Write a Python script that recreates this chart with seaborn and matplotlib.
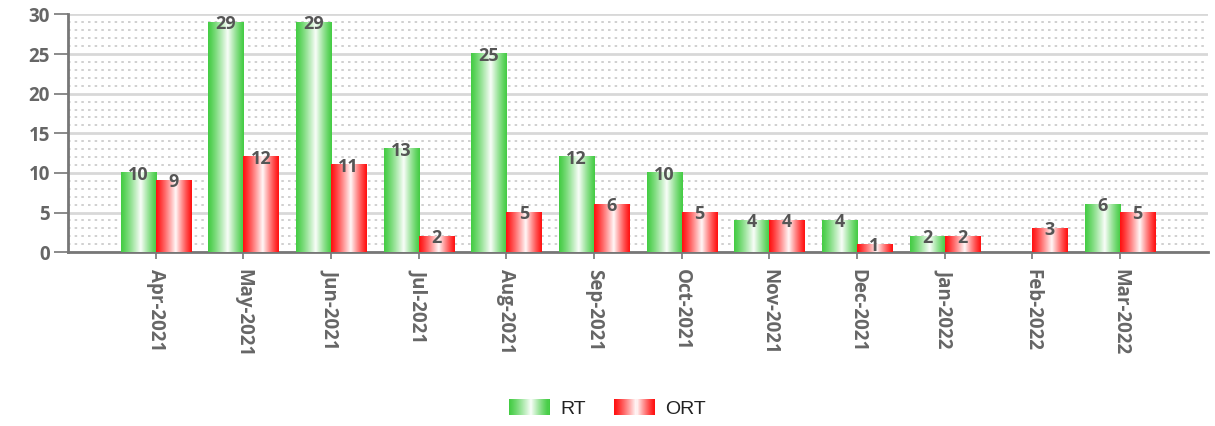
import numpy as np
import pandas as pd
import matplotlib
matplotlib.use("Agg")
import matplotlib.pyplot as plt
from matplotlib.patches import Rectangle
from matplotlib.legend_handler import HandlerBase
from matplotlib.colors import to_rgb
import seaborn as sns

# ── Data ──────────────────────────────────────────────────────────────────────
MONTHS = ["Apr-2021", "May-2021", "Jun-2021", "Jul-2021", "Aug-2021", "Sep-2021",
          "Oct-2021", "Nov-2021", "Dec-2021", "Jan-2022", "Feb-2022", "Mar-2022"]
RT  = [10, 29, 29, 13, 25, 12, 10, 4, 4, 2, np.nan, 6]
ORT = [9, 12, 11, 2, 5, 6, 5, 4, 1, 2, 3, 5]
SERIES = ["RT", "ORT"]
COLORS = {"RT": "#44cc44", "ORT": "#ff1111"}

df = pd.DataFrame({
    "month": MONTHS * 2,
    "value": RT + ORT,
    "series": ["RT"] * len(MONTHS) + ["ORT"] * len(MONTHS),
})

# ── Style ─────────────────────────────────────────────────────────────────────
sns.set_theme(style="white")
plt.rcParams["font.family"] = ["Open Sans", "DejaVu Sans"]
TXT = "#666666"


def gradient(color, n=120):
    base = np.array(to_rgb(color))
    t = np.linspace(0, 1, n)
    c = 0.55
    mix = np.where(t < c, t / c, (1 - t) / (1 - c))
    mix = np.clip(mix, 0, 1) ** 1.2 * 0.97
    return base[None, :] * (1 - mix[:, None]) + mix[:, None]


class GradientHandler(HandlerBase):
    def __init__(self, color):
        super().__init__()
        self.color = color

    def create_artists(self, legend, orig_handle, xdescent, ydescent,
                       width, height, fontsize, trans):
        cols = gradient(self.color, 40)
        n = len(cols)
        arts = []
        for i, col in enumerate(cols):
            r = Rectangle((-xdescent + width * i / n, -ydescent), width / n * 1.6, height,
                          facecolor=col, edgecolor="none", linewidth=0,
                          antialiased=False, transform=trans)
            arts.append(r)
        return arts


fig = plt.figure(figsize=(12.15, 4.26), dpi=100)
ax = fig.add_axes([0.056, 0.408, 0.938, 0.558])

sns.barplot(data=df, x="month", y="value", hue="series", palette=COLORS,
            width=0.8, saturation=1, ax=ax, legend=False, zorder=3, linewidth=0)

# gradient fill over each bar; RT sits left of the tick, ORT right of it
for patch in list(ax.patches):
    h = patch.get_height()
    if not np.isfinite(h) or h == 0:
        continue
    x0 = patch.get_x()
    w = patch.get_width()
    xc = x0 + w / 2
    s = "RT" if xc < round(xc) else "ORT"
    img = gradient(COLORS[s])[None, :, :]
    ax.imshow(img, extent=[x0, x0 + w, 0, h], aspect="auto", zorder=4,
              interpolation="bilinear")
    ax.text(xc, h - 0.2, f"{int(h)}", ha="center", va="center",
            fontsize=13, fontweight="bold", color="#555555", zorder=5)

ax.set_xlim(-1, 12)
ax.set_ylim(0, 30)
ax.set_aspect("auto")

# grid
ax.set_yticks(np.arange(0, 31, 5))
ax.set_yticks(np.arange(0, 31, 1), minor=True)
ax.grid(axis="y", which="major", color="#d8d8d8", linewidth=2, zorder=0)
ax.grid(axis="y", which="minor", color="#c8c8c8", linewidth=1.2, linestyle=(0, (1.5, 2.5)), zorder=0)
ax.grid(axis="x", visible=False)
ax.set_axisbelow(True)

ax.tick_params(axis="y", which="major", length=10, width=1.2, color="#777777",
               labelsize=13.5, labelcolor=TXT, pad=3, left=True)
ax.tick_params(axis="y", which="minor", length=0)
ax.tick_params(axis="x", which="major", length=5, width=1.2, color="#777777",
               labelsize=13.5, labelcolor=TXT, pad=7, bottom=True)
for lbl in ax.get_yticklabels():
    lbl.set_fontweight("bold")
ax.set_xticks(range(len(MONTHS)))
ax.set_xticklabels(MONTHS, rotation=-90, fontweight="bold", va="top", ha="center")
ax.set_xlabel("")
ax.set_ylabel("")

for side in ["top", "right"]:
    ax.spines[side].set_visible(False)
for side in ["left", "bottom"]:
    ax.spines[side].set_color("#777777")
    ax.spines[side].set_linewidth(2)

# legend
h1 = Rectangle((0, 0), 1, 1)
h2 = Rectangle((0, 0), 1, 1)
fig.legend([h1, h2], SERIES, loc="center", bbox_to_anchor=(0.5, 0.042), ncol=2,
           frameon=False, handler_map={h1: GradientHandler(COLORS["RT"]),
                                       h2: GradientHandler(COLORS["ORT"])},
           prop={"family": "Liberation Sans", "size": 14}, labelcolor="#222222",
           handlelength=2.1, handleheight=0.95, columnspacing=1.45, handletextpad=0.55)

fig.savefig("out.png", dpi=100, facecolor="white")
